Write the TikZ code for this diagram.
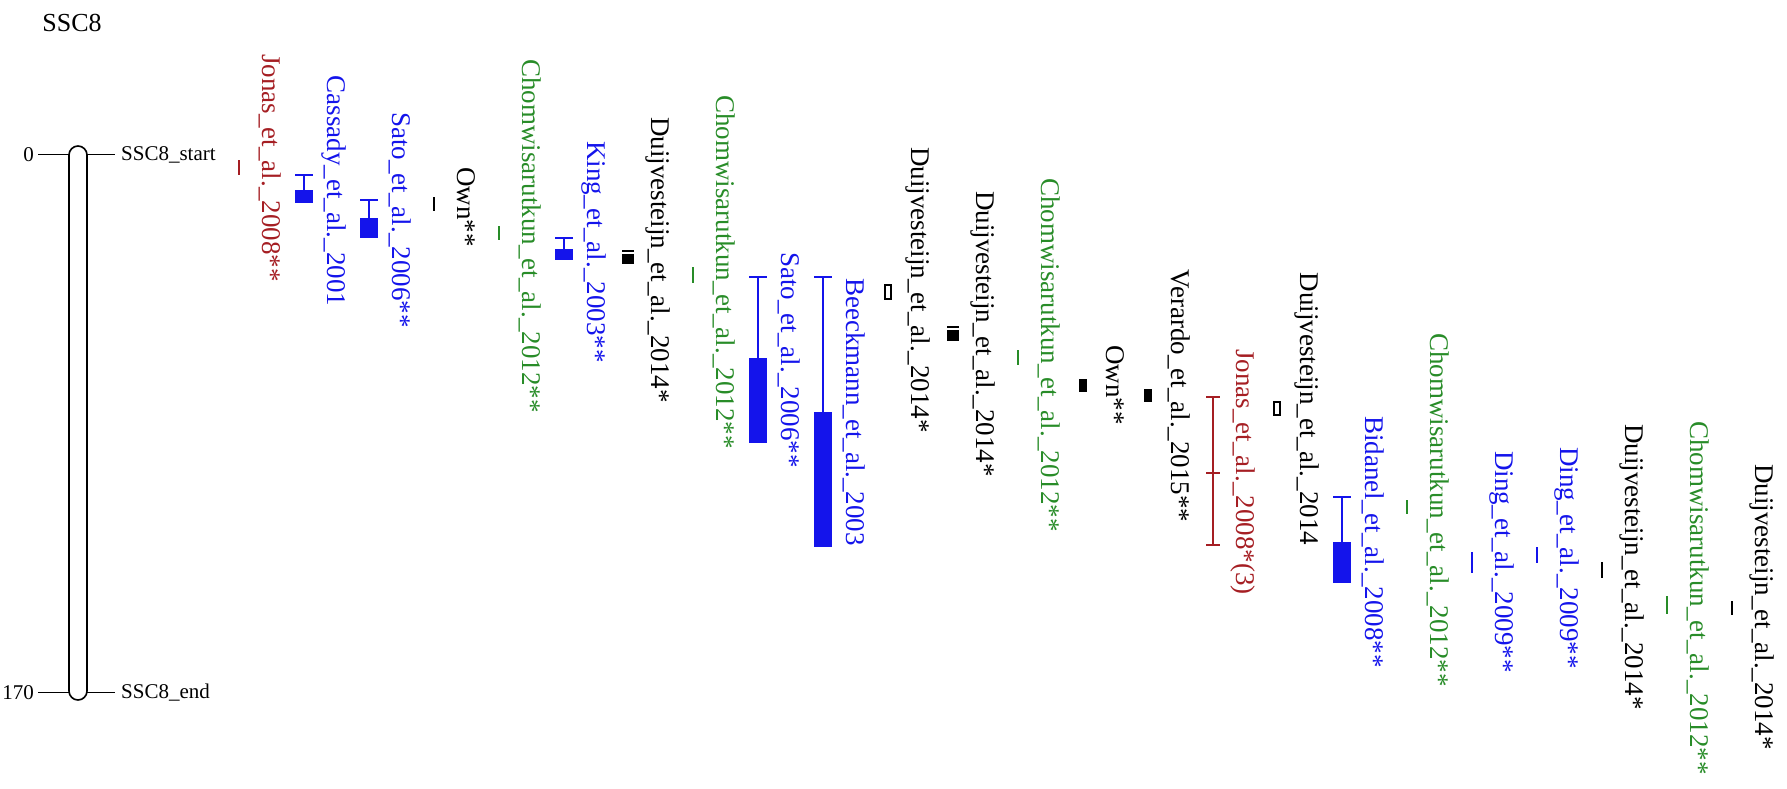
\documentclass[tikz,border=0pt]{standalone}
\usepackage{fontspec}
\setmainfont{Liberation Serif}
\usepackage{xcolor}
\definecolor{qtlred}{RGB}{165,30,35}
\definecolor{qtlblue}{RGB}{20,20,235}
\definecolor{qtlgreen}{RGB}{40,140,40}

\begin{document}
\begin{tikzpicture}[x=1pt,y=-1pt,
    chrom/.style={line width=1.6pt},
    tick/.style={line width=1.3pt},
    qtl/.style={line width=1.8pt},
    thinqtl/.style={line width=2pt},
    scalelbl/.style={inner sep=0pt,font=\fontsize{21}{25}\selectfont},
    lbl/.style={rotate=-90,anchor=base,inner sep=0pt,font=\fontsize{27}{32}\selectfont}]
    \useasboundingbox (0,0) rectangle (1787,789);

    \node[inner sep=0pt,font=\fontsize{26}{31}\selectfont] (title) at (72,23) {SSC8};

    \draw[chrom,rounded corners=9pt] (69,146) rectangle (87,700);
    \draw[tick] (38,154.5) -- (69,154.5) (87,154.5) -- (115,154.5);
    \draw[tick] (38,692.5) -- (69,692.5) (87,692.5) -- (115,692.5);
    \node[scalelbl,anchor=east] (top) at (34,154.5) {0};
    \node[scalelbl,anchor=east] (bot) at (34,692.5) {170};
    \node[scalelbl,anchor=west] (start) at (121,154.5) {SSC8\_start};
    \node[scalelbl,anchor=west] (end) at (121,692.5) {SSC8\_end};

    \node[lbl,text=qtlred] (jonasA) at (262,168) {Jonas\_et\_al.\_2008**};
    \draw[thinqtl,qtlred] (239,160) -- (239,175);

    \node[lbl,text=qtlblue] (cassady) at (327,191) {Cassady\_et\_al.\_2001};
    \draw[qtl,qtlblue] (295,175) -- (313,175) (304,175) -- (304,190);
    \fill[qtlblue] (295,190) rectangle (313,203);

    \node[lbl,text=qtlblue] (satoA) at (392,220) {Sato\_et\_al.\_2006**};
    \draw[qtl,qtlblue] (360,200) -- (378,200) (369,200) -- (369,218);
    \fill[qtlblue] (360,218) rectangle (378,238);

    \node[lbl] (ownA) at (457,207) {Own**};
    \draw[thinqtl] (434,197) -- (434,211);

    \node[lbl,text=qtlgreen] (chomA) at (522,236) {Chomwisarutkun\_et\_al.\_2012**};
    \draw[thinqtl,qtlgreen] (499,226) -- (499,240);

    \node[lbl,text=qtlblue] (king) at (587,252) {King\_et\_al.\_2003**};
    \draw[qtl,qtlblue] (555,238) -- (573,238) (564,238) -- (564,249);
    \fill[qtlblue] (555,249) rectangle (573,260);

    \node[lbl] (duijA) at (651,260) {Duijvesteijn\_et\_al.\_2014*};
    \draw[qtl] (622,251) -- (634,251);
    \fill (622,254) rectangle (634,264);

    \node[lbl,text=qtlgreen] (chomB) at (716,272) {Chomwisarutkun\_et\_al.\_2012**};
    \draw[thinqtl,qtlgreen] (693,267) -- (693,283);

    \node[lbl,text=qtlblue] (satoB) at (781,360) {Sato\_et\_al.\_2006**};
    \draw[qtl,qtlblue] (749,277) -- (767,277) (758,277) -- (758,358);
    \fill[qtlblue] (749,358) rectangle (767,443);

    \node[lbl,text=qtlblue] (beeck) at (846,412) {Beeckmann\_et\_al.\_2003};
    \draw[qtl,qtlblue] (814,277) -- (832,277) (823,277) -- (823,412);
    \fill[qtlblue] (814,412) rectangle (832,547);

    \node[lbl] (duijB) at (911,290) {Duijvesteijn\_et\_al.\_2014*};
    \draw[line width=1.5pt] (885,285) rectangle (891,299);

    \node[lbl] (duijC) at (976,334) {Duijvesteijn\_et\_al.\_2014*};
    \draw[qtl] (947,327) -- (959,327);
    \fill (947,330) rectangle (959,341);

    \node[lbl,text=qtlgreen] (chomC) at (1041,355) {Chomwisarutkun\_et\_al.\_2012**};
    \draw[thinqtl,qtlgreen] (1018,350) -- (1018,365);

    \node[lbl] (ownB) at (1106,385) {Own**};
    \fill (1079,379) rectangle (1087,392);

    \node[lbl] (verardo) at (1171,396) {Verardo\_et\_al.\_2015**};
    \fill (1144,389) rectangle (1152,402);

    \node[lbl,text=qtlred] (jonasB) at (1236,472) {Jonas\_et\_al.\_2008*(3)};
    \draw[qtl,qtlred] (1206,397) -- (1220,397) (1213,397) -- (1213,545)
        (1206,473) -- (1220,473) (1206,545) -- (1220,545);

    \node[lbl] (duijD) at (1300,409) {Duijvesteijn\_et\_al.\_2014};
    \draw[line width=1.5pt] (1274,402) rectangle (1280,415);

    \node[lbl,text=qtlblue] (bidanel) at (1365,542) {Bidanel\_et\_al.\_2008**};
    \draw[qtl,qtlblue] (1333,497) -- (1351,497) (1342,497) -- (1342,542);
    \fill[qtlblue] (1333,542) rectangle (1351,583);

    \node[lbl,text=qtlgreen] (chomD) at (1430,510) {Chomwisarutkun\_et\_al.\_2012**};
    \draw[thinqtl,qtlgreen] (1407,500) -- (1407,514);

    \node[lbl,text=qtlblue] (dingA) at (1495,562) {Ding\_et\_al.\_2009**};
    \draw[thinqtl,qtlblue] (1472,552) -- (1472,573);

    \node[lbl,text=qtlblue] (dingB) at (1560,558) {Ding\_et\_al.\_2009**};
    \draw[thinqtl,qtlblue] (1537,547) -- (1537,563);

    \node[lbl] (duijE) at (1625,567) {Duijvesteijn\_et\_al.\_2014*};
    \draw[thinqtl] (1602,562) -- (1602,578);

    \node[lbl,text=qtlgreen] (chomE) at (1690,598) {Chomwisarutkun\_et\_al.\_2012**};
    \draw[thinqtl,qtlgreen] (1667,596) -- (1667,614);

    \node[lbl] (duijF) at (1755,607) {Duijvesteijn\_et\_al.\_2014*};
    \draw[thinqtl] (1732,601) -- (1732,615);
\end{tikzpicture}
\end{document}
